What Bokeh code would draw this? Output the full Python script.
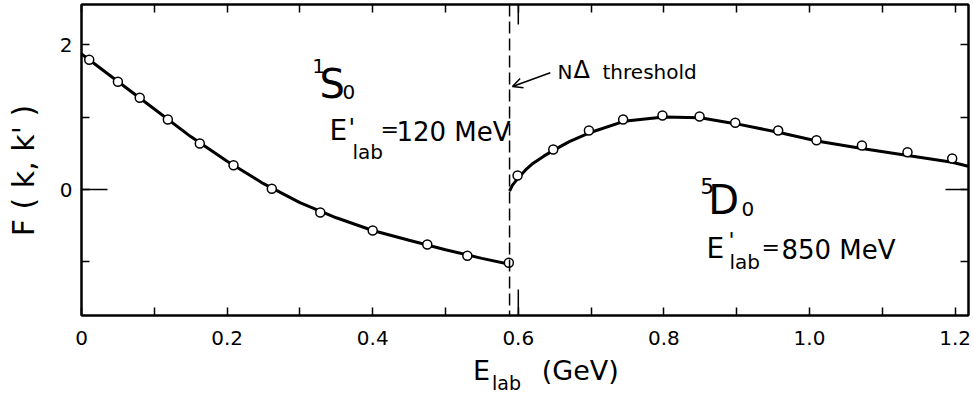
import math

from bokeh.plotting import figure
from bokeh.layouts import row, column
from bokeh.models import Range1d, LinearAxis, FixedTicker, Span, Arrow, OpenHead, Label
from bokeh.embed import file_html
from bokeh.resources import INLINE

# ---- data -------------------------------------------------------------
# continuous curves (solid lines), E_lab in GeV
s_curve_e = [0.0, 0.0106, 0.05, 0.1, 0.15, 0.2, 0.25, 0.3, 0.35, 0.4, 0.45, 0.5, 0.55, 0.588]
s_curve_f = [1.87, 1.79, 1.49, 1.11, 0.73, 0.39, 0.08, -0.18, -0.39, -0.565, -0.70, -0.83, -0.95, -1.03]

d_curve_e = [0.588, 0.592, 0.60, 0.61, 0.62, 0.635, 0.65, 0.67, 0.70, 0.745, 0.80, 0.85,
             0.90, 0.957, 1.01, 1.072, 1.135, 1.196, 1.218]
d_curve_f = [-0.02, 0.06, 0.16, 0.27, 0.36, 0.46, 0.55, 0.66, 0.79, 0.94, 1.00, 0.99,
             0.905, 0.79, 0.67, 0.565, 0.47, 0.375, 0.32]

# open-circle points
s_pts_e = [0.0106, 0.050, 0.080, 0.1186, 0.1625, 0.2088, 0.2614, 0.328, 0.400, 0.475, 0.530, 0.587]
s_pts_f = [1.79, 1.486, 1.265, 0.966, 0.634, 0.335, 0.01, -0.317, -0.566, -0.759, -0.915, -1.011]
d_pts_e = [0.599, 0.648, 0.697, 0.744, 0.798, 0.849, 0.898, 0.957, 1.0096, 1.072, 1.1346, 1.196]
d_pts_f = [0.193, 0.552, 0.814, 0.966, 1.021, 1.007, 0.92, 0.814, 0.68, 0.607, 0.515, 0.428]

threshold_e = 0.588

x_ticks = [0.0, 0.1, 0.2, 0.3, 0.4, 0.5, 0.6, 0.7, 0.8, 0.9, 1.0, 1.1, 1.2]
x_tick_labels = ["0", "", "0.2", "", "0.4", "", "0.6", "", "0.8", "", "1.0", "", "1.2"]
y_ticks = [-1.0, 0.0, 1.0, 2.0]
y_tick_labels = ["", "0", "", "2"]
long_x_ticks = [0.6]
long_y_ticks = [0.0]

X_MIN, X_MAX = 0.0, 1.2184
Y_MIN, Y_MAX = -1.738, 2.552
FONT = "DejaVu Sans"
PX_PER_F = 72.5          # vertical pixels per unit of F inside the frame


def bare(fig):
    fig.xgrid.visible = False
    fig.ygrid.visible = False
    fig.outline_line_color = None
    fig.background_fill_color = "white"
    fig.border_fill_color = "white"


# ---- main panel -------------------------------------------------------
p = figure(width=929, height=350, output_backend="svg", toolbar_location=None,
           x_range=Range1d(X_MIN, X_MAX), y_range=Range1d(Y_MIN, Y_MAX),
           min_border_left=36, min_border_right=6, min_border_top=4, min_border_bottom=35)
bare(p)
p.outline_line_color = "black"
p.outline_line_width = 2

p.add_layout(LinearAxis(), "above")
p.add_layout(LinearAxis(), "right")


def style_axis(ax, ticks, labels, show, standoff):
    ax.ticker = FixedTicker(ticks=ticks)
    ax.major_label_overrides = {t: (l if show else "") for t, l in zip(ticks, labels)}
    ax.axis_line_color = "black"
    ax.axis_line_width = 2
    ax.major_tick_line_color = "black"
    ax.major_tick_line_width = 1.5
    ax.major_tick_in = 8
    ax.major_tick_out = 0
    ax.minor_tick_line_color = None
    ax.major_label_text_font = FONT
    ax.major_label_text_color = "black"
    ax.major_label_text_font_size = "20px" if show else "0px"
    ax.major_label_standoff = standoff


style_axis(p.below[0], x_ticks, x_tick_labels, True, 15)
style_axis(p.above[0], x_ticks, x_tick_labels, False, 0)
style_axis(p.left[0], y_ticks, y_tick_labels, True, 9)
style_axis(p.right[0], y_ticks, y_tick_labels, False, 0)

# longer ticks marking E = 0.6 GeV and F = 0 on each side of the frame
px_x = (X_MAX - X_MIN) / 887.0
px_y = (Y_MAX - Y_MIN) / 311.0
for e in long_x_ticks:
    p.segment(x0=[e, e], y0=[Y_MIN, Y_MAX], x1=[e, e], y1=[Y_MIN + 26 * px_y, Y_MAX - 20 * px_y],
              line_color="black", line_width=1.5)
for f in long_y_ticks:
    p.segment(x0=[X_MIN, X_MAX], y0=[f, f], x1=[X_MIN + 26 * px_x, X_MAX - 23 * px_x], y1=[f, f],
              line_color="black", line_width=1.5)

# N-Delta threshold
p.add_layout(Span(location=threshold_e, dimension="height", line_color="black",
                  line_width=1.5, line_dash="12 5"))

# curves and points
p.line(s_curve_e, s_curve_f, line_color="black", line_width=3)
p.line(d_curve_e, d_curve_f, line_color="black", line_width=3)
for xs, ys in ((s_pts_e, s_pts_f), (d_pts_e, d_pts_f)):
    p.scatter(xs, ys, marker="circle", size=9, fill_color="white",
              line_color="black", line_width=1.5)

# arrow to the threshold line
p.add_layout(Arrow(end=OpenHead(size=10, line_width=1.5, line_color="black"),
                   x_start=0.644, y_start=1.61, x_end=0.592, y_end=1.42,
                   line_color="black", line_width=1.5))


def lab(fig, x, y, text, size, **kw):
    fig.add_layout(Label(x=x, y=y, text=text, text_font=FONT, text_font_size=f"{size}px",
                         text_color="black", text_baseline="alphabetic", **kw))


def plab(x, base_px, text, size):
    """Label in the main panel; base_px is the wanted baseline row inside the frame."""
    anchor = base_px - 0.346 * size
    lab(p, x, (189 - anchor) / PX_PER_F, text, size)


# 1S0 block
plab(0.317, 72, "1", 20)
plab(0.327, 97, "S", 40)
plab(0.3585, 98, "0", 20)
plab(0.3407, 140, "E", 28)
plab(0.3668, 135.3, "'", 24)
plab(0.3723, 158, "lab", 20)
plab(0.4107, 137, "=", 22)
plab(0.4326, 140, "120 MeV", 26)

# threshold caption
plab(0.6538, 78, "N", 20)
plab(0.6758, 78, "\u0394", 24)
plab(0.7157, 78, "threshold", 20)

# 5D0 block
plab(0.850, 193, "5", 22)
plab(0.861, 213, "D", 40)
plab(0.9066, 215, "0", 20)
plab(0.8585, 258, "E", 28)
plab(0.8887, 248, "'", 22)
plab(0.890, 268, "lab", 20)
plab(0.9341, 255, "=", 22)
plab(0.9615, 258, "850 MeV", 26)

# ---- axis titles (pixel-coordinate strips) ----------------------------
p_left = figure(width=45, height=394, output_backend="svg", toolbar_location=None,
                x_range=Range1d(0, 45), y_range=Range1d(394, 0),
                x_axis_type=None, y_axis_type=None, min_border=0)
bare(p_left)
lab(p_left, 33 - 0.346 * 30, 170, "F ( k, k' )", 30, angle=math.pi / 2, text_align="center")

p_bottom = figure(width=929, height=44, output_backend="svg", toolbar_location=None,
                  x_range=Range1d(45, 974), y_range=Range1d(394, 350),
                  x_axis_type=None, y_axis_type=None, min_border=0)
bare(p_bottom)
lab(p_bottom, 455, 379 - 0.346 * 27, "E", 27)
lab(p_bottom, 475, 389 - 0.346 * 19, "lab", 19)
lab(p_bottom, 527, 379 - 0.346 * 27, "(GeV)", 27)

page = row(p_left, column(p, p_bottom))
open("out.html", "w").write(file_html(page, INLINE))
